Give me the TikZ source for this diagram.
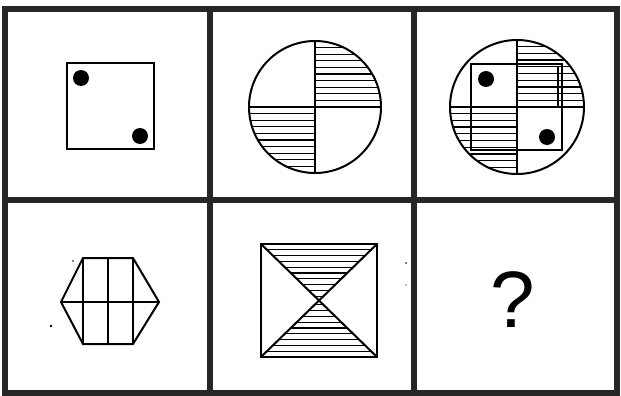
\documentclass[tikz,border=0pt]{standalone}
\usepackage{fontspec}
\setmainfont{Liberation Sans}
\begin{document}
\begin{tikzpicture}[x=1pt,y=-1pt,
  frame/.style={line width=5.5pt, black!85},
  fig/.style={line width=2pt, black},
  hatch/.style={line width=1.3pt, black},
  speck/.style={fill=black}]
\useasboundingbox (0,0) rectangle (621,396);
\fill[white] (0,0) rectangle (621,396);
% frame
\draw[frame] (5,9) rectangle (617,393);
\draw[frame] (210,9) -- (210,393);
\draw[frame] (414,9) -- (414,393);
\draw[frame] (5,200) -- (617,200);

% cell 1
\draw[fig] (67,63) rectangle (154,149);
\fill (81,78) circle (8);
\fill (140,136) circle (8);

% cell 2
\begin{scope}
  \clip (315,107) circle (66);
  \clip (315,30) rectangle (390,107);
  \foreach \k in {1,...,10} \draw[hatch] (240,{107-\k*6.6}) -- (390,{107-\k*6.6});
\end{scope}
\begin{scope}
  \clip (315,107) circle (66);
  \clip (240,107) rectangle (315,180);
  \foreach \k in {1,...,10} \draw[hatch] (240,{107+\k*6.6}) -- (390,{107+\k*6.6});
\end{scope}
\draw[fig] (315,107) circle (66);
\draw[fig] (315,41) -- (315,173);
\draw[fig] (249,107) -- (381,107);

% cell 3
\begin{scope}
  \clip (517,107) circle (67);
  \clip (517,30) rectangle (590,107);
  \foreach \k in {1,...,10} \draw[hatch] (440,{107-\k*6.7}) -- (590,{107-\k*6.7});
\end{scope}
\begin{scope}
  \clip (517,107) circle (67);
  \clip (440,107) rectangle (517,180);
  \foreach \k in {1,...,10} \draw[hatch] (440,{107+\k*6.7}) -- (590,{107+\k*6.7});
\end{scope}
\draw[fig] (517,107) circle (67);
\draw[fig] (517,40) -- (517,174);
\draw[fig] (450,107) -- (584,107);
\draw[fig] (471,64) rectangle (562,150);
\draw[hatch] (558,66) -- (558,107);
\fill (486,79) circle (8);
\fill (547,137) circle (8);

% cell 4
\draw[fig] (61,302) -- (83,258) -- (133,258) -- (159,302) -- (133,344) -- (83,344) -- cycle;
\draw[fig] (83,258) -- (83,344);
\draw[fig] (108,258) -- (108,344);
\draw[fig] (133,258) -- (133,344);
\draw[fig] (61,302) -- (159,302);
\fill[speck] (51,326) circle (1.4);
\fill[speck] (73,261) circle (0.8);

% cell 5
\begin{scope}
  \clip (261,244) -- (377,244) -- (319,300.5) -- cycle;
  \foreach \k in {1,...,10} \draw[hatch] (255,{244+\k*5.8}) -- (385,{244+\k*5.8});
\end{scope}
\begin{scope}
  \clip (261,357) -- (377,357) -- (319,300.5) -- cycle;
  \foreach \k in {1,...,10} \draw[hatch] (255,{357-\k*5.8}) -- (385,{357-\k*5.8});
\end{scope}
\draw[fig] (261,244) rectangle (377,357);
\draw[fig] (261,244) -- (377,357);
\draw[fig] (377,244) -- (261,357);
\fill[speck] (406,263) circle (0.8);
\fill[speck] (406,285) circle (0.6);

% cell 6
\node[inner sep=0pt] (q) at (513,300) {\fontsize{80}{80}\selectfont ?};
\end{tikzpicture}
\end{document}
